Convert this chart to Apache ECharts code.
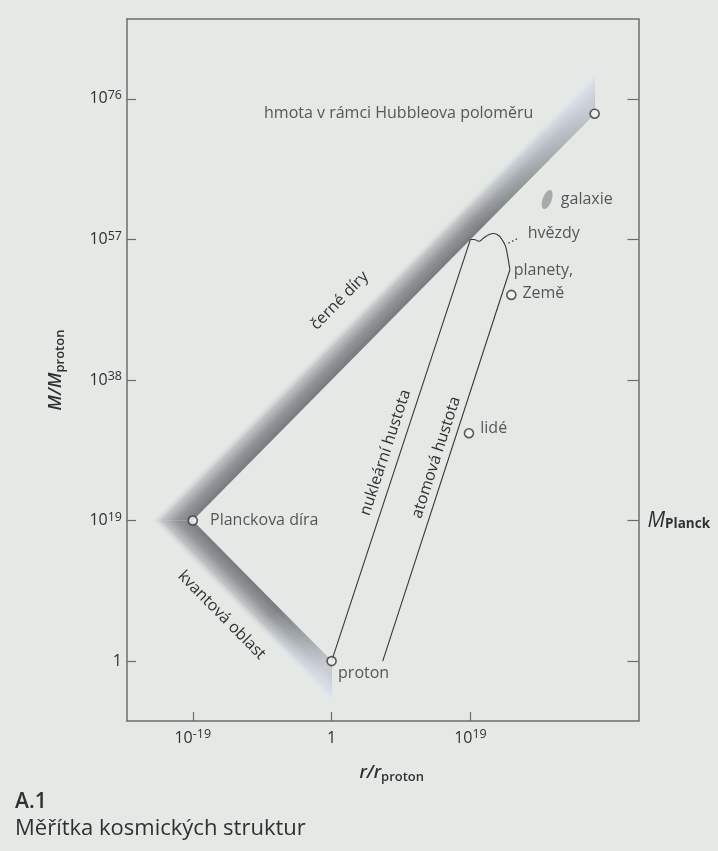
<!DOCTYPE html>
<html><head><meta charset="utf-8">
<script src="https://cdn.jsdelivr.net/npm/echarts@6/dist/echarts.min.js"></script>
<style>html,body{margin:0;padding:0;background:#e5e9e6;}#c{width:718px;height:851px;}</style>
</head><body><div id="c"></div>
<script>
// all values are log10 exponents (r/r_proton on x, M/M_proton on y)
const xTickValues = [-19, 0, 19];
const yTickValues = [0, 19, 38, 57, 76];
const planckTick = [19];
const blackHoleLine = [[-19, 19], [36, 74]];
const quantumLine = [[-19, 19], [0, 0]];
const bandDepth = 5.7;
const nuclearLine = [[0, 0], [19, 57]];
const atomicLine = [[7, 0], [24.4, 52.9]];
const starsBracket = [[24.4, 52.9], [24.1, 54.7], [23.8, 56.1], [23.3, 57.0], [22.9, 57.5], [22.2, 57.8], [21.5, 57.65], [20.8, 57.2], [20.15, 56.75], [19.5, 57.0], [19, 57]];
const starsLeader = [[24.2, 56.5], [25.6, 57.2]];
const pointNames = ['Planckova díra', 'proton', 'hmota v rámci Hubbleova poloměru', 'planety,\nZemě', 'lidé'];
const pointValues = [[-19, 19], [0, 0], [36, 74], [24.6, 49.5], [18.8, 30.8]];
const galaxyValue = [29.5, 62.4];
const lineLabels = ['černé díry', 'kvantová oblast', 'nukleární hustota', 'atomová hustota'];

const FONT = '"Open Sans", "Noto Sans", sans-serif';
const TXT = '#2f3131';
const AX = '#6a6d6c';
const BG = '#e5e9e6';
const LFS = 16;

const supRich = {
  b: {fontSize: 16, fontFamily: FONT, color: TXT, lineHeight: 20},
  s: {fontSize: 12.5, fontFamily: FONT, color: TXT, lineHeight: 12, verticalAlign: 'top'}
};
function powLabel(v) { return v === 0 ? '{b|1}' : '{b|10}{s|' + v + '}'; }

const subRich = {
  i: {fontSize: 18, fontFamily: FONT, fontStyle: 'italic', fontWeight: 600, color: TXT, lineHeight: 22},
  s: {fontSize: 13, fontFamily: FONT, fontWeight: 600, color: TXT, lineHeight: 12, verticalAlign: 'bottom'}
};

function perpGrad(p0, p1, pOut, stops) {
  const dx = p1[0] - p0[0], dy = p1[1] - p0[1];
  const L = Math.hypot(dx, dy), ux = dx / L, uy = dy / L;
  const vx = pOut[0] - p0[0], vy = pOut[1] - p0[1];
  const dot = vx * ux + vy * uy;
  const px = vx - dot * ux, py = vy - dot * uy;
  return new echarts.graphic.LinearGradient(p0[0], p0[1], p0[0] + px, p0[1] + py, stops, true);
}
const bandStops = [
  {offset: 0, color: 'rgba(118,122,126,1)'},
  {offset: 0.4, color: 'rgba(140,144,148,0.93)'},
  {offset: 0.75, color: 'rgba(175,179,183,0.7)'},
  {offset: 1, color: 'rgba(220,225,226,0.05)'}
];
const fadeStops = [
  {offset: 0, color: 'rgba(226,233,240,0)'},
  {offset: 1, color: 'rgba(226,233,240,0.7)'}
];
function lerp(line, t) { return [line[0][0] + (line[1][0] - line[0][0]) * t, line[0][1] + (line[1][1] - line[0][1]) * t]; }

function renderBands(params, api) {
  const P = blackHoleLine[0], H = blackHoleLine[1], Pr = quantumLine[1];
  const d = bandDepth;
  const A = [P[0] - d, P[1]];
  const c = v => api.coord(v);
  const p = c(P), h = c(H), a = c(A), ho = c([H[0], H[1] + d]), pr = c(Pr), qo = c([Pr[0], Pr[1] - d]);
  // end fades along each band; start edge perpendicular to the band
  const b1 = lerp(blackHoleLine, 0.72), q1 = lerp(quantumLine, 0.62);
  const fb1 = c(b1), q1p = c(q1);
  const b1o = c([b1[0] - d / 2, b1[1] + d / 2]), q1o = c([q1[0] - d / 2, q1[1] - d / 2]);
  return {
    type: 'group',
    children: [
      {type: 'polygon', shape: {points: [p, h, ho, a]}, style: {fill: perpGrad(p, h, a, bandStops)}},
      {type: 'polygon', shape: {points: [p, a, qo, pr]}, style: {fill: perpGrad(p, pr, a, bandStops)}},
      {type: 'polygon', shape: {points: [fb1, h, ho, b1o]},
       style: {fill: new echarts.graphic.LinearGradient(fb1[0], fb1[1], h[0], h[1], fadeStops, true)}},
      {type: 'polygon', shape: {points: [q1p, pr, qo, q1o]},
       style: {fill: new echarts.graphic.LinearGradient(q1p[0], q1p[1], pr[0], pr[1], fadeStops, true)}}
    ]
  };
}

const lineTextPlacement = [
  {line: blackHoleLine, t: 0.454, off: 50},
  {line: quantumLine, t: 0.444, off: -46},
  {line: nuclearLine, t: 0.484, off: 14},
  {line: atomicLine, t: 0.511, off: 12}
];
function renderLineText(params, api) {
  const cfg = lineTextPlacement[params.dataIndex];
  const p1 = api.coord(cfg.line[0]), p2 = api.coord(cfg.line[1]);
  const th = Math.atan2(-(p2[1] - p1[1]), p2[0] - p1[0]);
  const x = p1[0] + (p2[0] - p1[0]) * cfg.t - Math.sin(th) * cfg.off;
  const y = p1[1] + (p2[1] - p1[1]) * cfg.t - Math.cos(th) * cfg.off;
  return {
    type: 'text', x: x, y: y, rotation: th,
    style: {text: lineLabels[params.dataIndex], fill: TXT, fontSize: LFS, fontFamily: FONT, align: 'center', verticalAlign: 'middle'}
  };
}

const pointLabelStyle = [
  {position: 'right', distance: 12},
  {position: 'inside', offset: [32, 12]},
  {position: 'left', distance: 56},
  {position: 'inside', offset: [32, -13], align: 'center', lineHeight: 23},
  {position: 'right', distance: 6, offset: [0, -5]}
];
const pointData = pointNames.map((n, i) => ({
  name: n, value: pointValues[i],
  label: Object.assign({show: true, formatter: n, color: TXT, fontSize: LFS, fontFamily: FONT}, pointLabelStyle[i])
}));

const axisLineStyle = {show: true, onZero: false, lineStyle: {color: AX, width: 1.5}};

const chart = echarts.init(document.getElementById('c'), null, {renderer: 'canvas'});
chart.setOption({
  backgroundColor: BG,
  animation: false,
  grid: {left: 127, right: 79.5, top: 19, bottom: 130},
  title: [
    {text: 'A.1', left: 10, top: 787, textStyle: {fontSize: 21, fontWeight: 600, fontFamily: FONT, color: TXT}},
    {text: 'Měřítka kosmických struktur', left: 10, top: 813, textStyle: {fontSize: 22, fontWeight: 'normal', fontFamily: FONT, color: TXT}}
  ],
  xAxis: [
    {type: 'value', min: -28, max: 42, position: 'bottom',
     axisLine: axisLineStyle,
     axisTick: {show: true, inside: true, length: 9, customValues: xTickValues, lineStyle: {color: AX, width: 1.2}},
     axisLabel: {show: true, customValues: xTickValues, formatter: powLabel, rich: supRich, margin: 7},
     splitLine: {show: false},
     name: '{i|r/r}{s|proton}', nameLocation: 'middle', nameGap: 41, nameTextStyle: {rich: subRich, padding: [0, 0, 0, 18]}},
    {type: 'value', min: -28, max: 42, position: 'top',
     axisLine: axisLineStyle,
     axisTick: {show: false}, axisLabel: {show: false}, splitLine: {show: false}}
  ],
  yAxis: [
    {type: 'value', min: -8.1, max: 86.8, position: 'left',
     axisLine: axisLineStyle,
     axisTick: {show: true, inside: true, length: 9, customValues: yTickValues, lineStyle: {color: AX, width: 1.2}},
     axisLabel: {show: true, customValues: yTickValues, formatter: powLabel, rich: supRich, margin: 5},
     splitLine: {show: false},
     name: '{i|M/M}{s|proton}', nameLocation: 'middle', nameRotate: 90, nameGap: 60, nameTextStyle: {rich: subRich}},
    {type: 'value', min: -8.1, max: 86.8, position: 'right',
     axisLine: axisLineStyle,
     axisTick: {show: true, inside: true, length: 11, customValues: yTickValues, lineStyle: {color: AX, width: 1.2}},
     axisLabel: {show: true, customValues: planckTick, margin: 9,
       formatter: () => '{i|M}{s|Planck}',
       rich: {i: {fontSize: 21, fontFamily: FONT, fontStyle: 'italic', color: TXT, lineHeight: 22},
              s: {fontSize: 13.5, fontFamily: FONT, fontWeight: 700, color: TXT, lineHeight: 12, verticalAlign: 'bottom'}}},
     splitLine: {show: false}}
  ],
  series: [
    {type: 'custom', name: 'pásmo', renderItem: renderBands, data: [blackHoleLine[0]], z: 1, silent: true},
    {type: 'line', name: 'nukleární hustota', data: nuclearLine, symbol: 'none', lineStyle: {color: '#353535', width: 1.1}, z: 3},
    {type: 'line', name: 'atomová hustota', data: atomicLine, symbol: 'none', lineStyle: {color: '#353535', width: 1.1}, z: 3},
    {type: 'line', name: 'hvězdy', data: starsBracket, symbol: 'none', smooth: 0.4, lineStyle: {color: '#353535', width: 1.1}, z: 3},
    {type: 'line', name: 'hvězdy popisek', data: starsLeader, symbol: 'none', lineStyle: {color: '#353535', width: 1.3, type: [1.5, 2.5]}, z: 3},
    {type: 'scatter', name: 'hvězdy text', data: [{value: starsLeader[1], label: {show: true, formatter: 'hvězdy', position: 'right', distance: 9, offset: [0, -5], color: TXT, fontSize: LFS, fontFamily: FONT}}],
     symbolSize: 0, itemStyle: {color: 'rgba(0,0,0,0)'}, z: 4},
    {type: 'custom', name: 'popisky', renderItem: renderLineText, data: lineLabels.map((t, i) => [i]), z: 4, silent: true},
    {type: 'scatter', name: 'galaxie', data: [{value: galaxyValue, label: {show: true, formatter: 'galaxie', position: 'right', distance: 6, color: TXT, fontSize: LFS, fontFamily: FONT}}],
     symbol: 'circle', symbolSize: [9, 20], symbolRotate: -20, itemStyle: {color: '#989a9b'}, z: 4},
    {type: 'scatter', name: 'body', data: pointData, symbol: 'circle', symbolSize: 9,
     itemStyle: {color: '#f3f5f3', borderColor: '#333', borderWidth: 1.6}, z: 5}
  ]
});
</script></body></html>
